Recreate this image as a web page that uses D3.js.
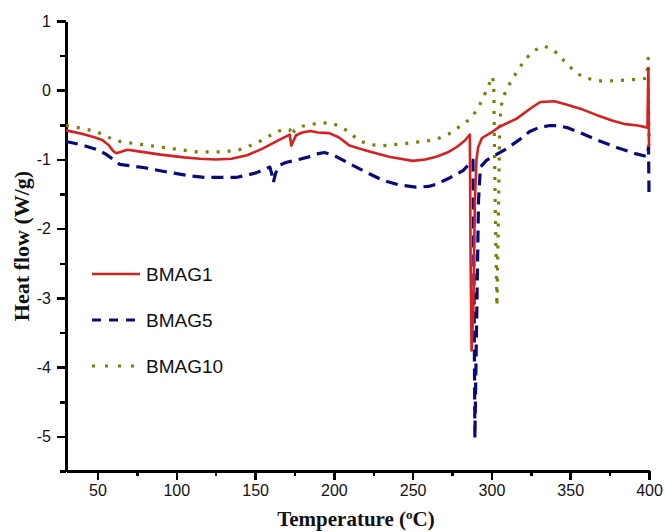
<!DOCTYPE html>
<html lang="en">
  <head>
    <meta charset="UTF-8" />
    <title>DSC curves</title>
    <style>
      body { margin: 0; background: #fff; }
      .axis path, .axis line { stroke: #000; stroke-width: 2.5px; shape-rendering: crispEdges; }
      .axis text { font-family: Arial, "Liberation Sans", sans-serif; font-size: 16px; fill: #111; }
      .title { font-family: "Times New Roman", "Liberation Serif", serif; font-weight: bold; fill: #111; }
      .legendText { font-family: Arial, "Liberation Sans", sans-serif; font-size: 19px; fill: #111; }
    </style>
  </head>
  <body>
    <script src="https://cdnjs.cloudflare.com/ajax/libs/d3/7.8.5/d3.min.js"></script>
    <script>
    // temperature (C), heat flow (W/g)
    var bmag1 = [[30,-0.58],[40,-0.63],[48,-0.68],[53,-0.72],[57,-0.79],[60,-0.88],[62,-0.91],[65,-0.89],[69,-0.86],[75,-0.88],
      [90,-0.93],[105,-0.97],[115,-0.99],[125,-1.0],[135,-0.99],[145,-0.94],[155,-0.84],[165,-0.72],[172,-0.64],[173,-0.80],
      [174,-0.75],[176,-0.65],[180,-0.61],[185,-0.59],[190,-0.61],[197,-0.62],[203,-0.68],[210,-0.80],[216,-0.84],[222,-0.88],
      [235,-0.96],[250,-1.02],[258,-1.0],[265,-0.96],[272,-0.9],[278,-0.82],[283,-0.73],[286.3,-0.64],[286.8,-2.5],[287.4,-3.76],
      [288.5,-3.2],[289.5,-1.6],[290.5,-1.0],[291.6,-0.82],[294,-0.69],[300,-0.61],[305,-0.53],[316,-0.41],[325,-0.26],[331,-0.17],
      [340,-0.16],[348,-0.21],[358,-0.28],[367,-0.36],[377,-0.44],[385,-0.49],[393,-0.51],[399,-0.54],[399.6,0.32],[400,-0.82]];
    var bmag5 = [[30,-0.74],[40,-0.79],[50,-0.86],[55,-0.92],[60,-1.0],[64,-1.07],[70,-1.09],[80,-1.12],[96,-1.19],[110,-1.24],
      [119,-1.26],[138,-1.26],[146,-1.22],[151,-1.19],[156,-1.14],[159.4,-1.11],[160.5,-1.2],[161.6,-1.33],[163,-1.2],[165.8,-1.08],
      [170,-1.04],[176,-1.01],[183,-0.97],[189,-0.92],[194,-0.9],[200,-0.94],[210,-1.06],[220,-1.18],[231,-1.3],[242,-1.37],
      [252,-1.40],[260,-1.39],[265,-1.36],[274,-1.26],[282,-1.16],[288.3,-1.01],[289,-3.0],[289.5,-5.03],[290.5,-3.5],[291.8,-1.6],
      [293,-1.11],[297,-1.01],[303,-0.93],[310,-0.84],[318,-0.71],[324,-0.60],[330,-0.54],[337,-0.51],[342,-0.51],[348,-0.54],
      [356,-0.61],[367,-0.72],[380,-0.83],[392,-0.92],[399,-0.96],[399.7,-0.82],[400,-1.47]];
    var bmag10 = [[30,-0.51],[40,-0.55],[49.5,-0.60],[56,-0.67],[62,-0.73],[70,-0.76],[80,-0.79],[96,-0.84],[113,-0.89],[130,-0.89],
      [140,-0.86],[146,-0.81],[152,-0.75],[159,-0.66],[165,-0.59],[170,-0.56],[172,-0.57],[173.5,-0.66],[175,-0.58],[180,-0.52],
      [189,-0.48],[197,-0.47],[204,-0.52],[210,-0.61],[216,-0.73],[224,-0.79],[231,-0.80],[242,-0.78],[252,-0.75],[260,-0.73],
      [267,-0.69],[273,-0.63],[278,-0.55],[283,-0.48],[287,-0.40],[291,-0.28],[295,-0.10],[298,0.06],[300.8,0.2],[301.5,0.0],
      [302.3,-1.5],[303.5,-3.12],[304.3,-2.0],[305.2,-0.6],[306,-0.25],[307.6,-0.09],[311,0.07],[314,0.19],[318,0.33],[322,0.46],
      [327,0.57],[333,0.64],[339,0.59],[345,0.45],[352,0.29],[358,0.19],[365,0.15],[371,0.13],[380,0.14],[388,0.15],
      [398.5,0.17],[399.5,0.46],[400,-0.8]];

    var seriesNames = ["BMAG1", "BMAG5", "BMAG10"];
    var seriesData = [bmag1, bmag5, bmag10];
    var colors = ["#d42222", "#0b0b78", "#7d7d0c"];
    var dashes = [null, "12,7", "3,8"];

    var xTicks = [50, 100, 150, 200, 250, 300, 350, 400];
    var xMinor = [75, 125, 175, 225, 275, 325, 375];
    var yTicks = [1, 0, -1, -2, -3, -4, -5];
    var yMinor = [0.5, -0.5, -1.5, -2.5, -3.5, -4.5, -5.5];

    var margin = {top: 21, right: 16, bottom: 61, left: 66};
    var w = 665, h = 532;

    var svg = d3.select("body").append("svg")
      .attr("width", w)
      .attr("height", h);

    var xScale = d3.scaleLinear().domain([30, 400]).range([margin.left, w - margin.right]);
    var yScale = d3.scaleLinear().domain([-5.5, 1]).range([h - margin.bottom, margin.top]);

    // minor ticks first so the labeled axis draws on top
    svg.append("g")
      .attr("class", "axis")
      .attr("transform", "translate(0," + (h - margin.bottom) + ")")
      .call(d3.axisBottom(xScale).tickValues(xMinor).tickSize(5).tickFormat(""))
      .select(".domain").remove();
    svg.append("g")
      .attr("class", "axis")
      .attr("transform", "translate(" + margin.left + ",0)")
      .call(d3.axisLeft(yScale).tickValues(yMinor).tickSize(6).tickFormat(""))
      .select(".domain").remove();

    svg.append("g")
      .attr("class", "axis")
      .attr("transform", "translate(0," + (h - margin.bottom) + ")")
      .call(d3.axisBottom(xScale).tickValues(xTicks).tickSize(9).tickSizeOuter(0).tickPadding(5));
    svg.append("g")
      .attr("class", "axis")
      .attr("transform", "translate(" + margin.left + ",0)")
      .call(d3.axisLeft(yScale).tickValues(yTicks).tickSize(9).tickSizeOuter(0).tickPadding(6)
        .tickFormat(function(d) { return String(d); }));

    var line = d3.line()
      .x(function(d) { return xScale(d[0]); })
      .y(function(d) { return yScale(d[1]); });

    // draw BMAG10 first, BMAG1 last
    [2, 1, 0].forEach(function(i) {
      svg.append("path")
        .datum(seriesData[i])
        .attr("fill", "none")
        .attr("stroke", colors[i])
        .attr("stroke-width", i === 0 ? 2.6 : 3.2)
        .attr("stroke-dasharray", dashes[i])
        .attr("stroke-linejoin", "round")
        .attr("d", line);
    });

    // legend
    var legend = svg.append("g").attr("transform", "translate(92,274)");
    seriesNames.forEach(function(name, i) {
      var g = legend.append("g").attr("transform", "translate(0," + (i * 46) + ")");
      g.append("line")
        .attr("x1", 0).attr("x2", 48)
        .attr("stroke", colors[i])
        .attr("stroke-width", i === 0 ? 2.6 : 3)
        .attr("stroke-dasharray", i === 2 ? "3,10" : (i === 1 ? "9,8" : null));
      g.append("text")
        .attr("class", "legendText")
        .attr("x", 54)
        .attr("y", 7)
        .text(name);
    });

    // axis titles
    var xt = svg.append("text")
      .attr("class", "title")
      .attr("font-size", "21px")
      .attr("text-anchor", "middle")
      .attr("x", 356)
      .attr("y", 526);
    xt.append("tspan").text("Temperature (");
    xt.append("tspan").attr("font-size", "13px").attr("dy", -7).text("o");
    xt.append("tspan").attr("dy", 7).text("C)");

    svg.append("text")
      .attr("class", "title")
      .attr("font-size", "22px")
      .attr("text-anchor", "middle")
      .attr("transform", "translate(29,246)rotate(-90)")
      .text("Heat flow (W/g)");
    </script>
  </body>
</html>
